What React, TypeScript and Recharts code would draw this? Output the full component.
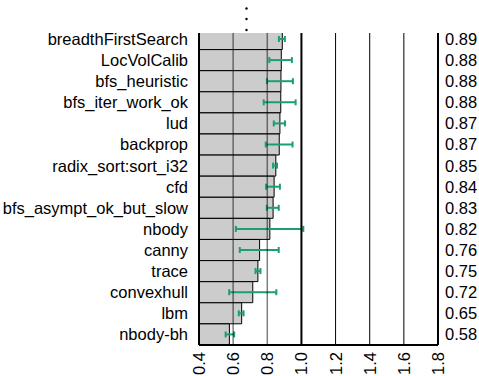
import React from 'react';
import { BarChart, Bar, XAxis, YAxis, ErrorBar, ReferenceLine } from 'recharts';

const categories = [
  'breadthFirstSearch', 'LocVolCalib', 'bfs_heuristic', 'bfs_iter_work_ok', 'lud', 'backprop',
  'radix_sort:sort_i32', 'cfd', 'bfs_asympt_ok_but_slow', 'nbody', 'canny', 'trace',
  'convexhull', 'lbm', 'nbody-bh',
];
const valueLabels = ['0.89', '0.88', '0.88', '0.88', '0.87', '0.87', '0.85', '0.84', '0.83', '0.82', '0.76', '0.75', '0.72', '0.65', '0.58'];
const values = [0.888, 0.882, 0.88, 0.879, 0.874, 0.87, 0.85, 0.84, 0.834, 0.815, 0.755, 0.745, 0.715, 0.65, 0.578];
const errLow = [0.868, 0.812, 0.798, 0.779, 0.838, 0.791, 0.834, 0.793, 0.797, 0.616, 0.639, 0.731, 0.577, 0.633, 0.556];
const errHigh = [0.903, 0.944, 0.95, 0.966, 0.904, 0.948, 0.857, 0.874, 0.867, 1.011, 0.867, 0.76, 0.853, 0.661, 0.606];
const xTicks = [0.4, 0.6, 0.8, 1.0, 1.2, 1.4, 1.6, 1.8];
const gridTicks = [0.6, 0.8, 1.2, 1.4, 1.6];

const data = categories.map((name, i) => ({
  name,
  label: valueLabels[i],
  value: values[i],
  err: [values[i] - errLow[i], errHigh[i] - values[i]],
}));

const FONT = '"Liberation Sans", Arial, sans-serif';
const FS = 16.5;

const XTick = (props: any) => {
  const { x, y, payload } = props;
  return (
    <text
      x={x}
      y={y}
      transform={`rotate(-90 ${x} ${y})`}
      textAnchor="end"
      dominantBaseline="central"
      fontFamily={FONT}
      fontSize={FS}
      fill="#000"
    >
      {payload.value.toFixed(1)}
    </text>
  );
};

export default function App() {
  return (
    <div style={{ position: 'absolute', left: 0, top: 0, width: 479, height: 376 }}>
      <BarChart
        width={479}
        height={376}
        data={data}
        layout="vertical"
        margin={{ top: 33, right: 0, bottom: 0, left: 0 }}
        barCategoryGap={0}
      >
        <XAxis
          type="number"
          domain={[0.4, 1.8]}
          ticks={xTicks}
          allowDataOverflow
          height={31}
          tickLine={false}
          tickSize={0}
          tickMargin={7}
          axisLine={{ stroke: '#000', strokeWidth: 2 }}
          tick={<XTick />}
          interval={0}
        />
        <YAxis
          yAxisId="left"
          type="category"
          dataKey="name"
          width={199}
          padding={{ top: -4.5, bottom: 0 }}
          allowDataOverflow
          tickLine={false}
          tickSize={0}
          tickMargin={11}
          axisLine={{ stroke: '#000', strokeWidth: 2 }}
          tick={{ fill: '#000', fontSize: FS, fontFamily: FONT }}
          interval={0}
        />
        <YAxis
          yAxisId="right"
          orientation="right"
          type="category"
          dataKey="label"
          width={41}
          padding={{ top: -4.5, bottom: 0 }}
          allowDataOverflow
          tickLine={false}
          tickSize={0}
          tickMargin={7}
          axisLine={{ stroke: '#000', strokeWidth: 2 }}
          tick={{ fill: '#000', fontSize: FS, fontFamily: FONT }}
          interval={0}
        />
        <Bar
          yAxisId="left"
          dataKey="value"
          fill="#cccccc"
          stroke="#000"
          strokeWidth={1}
          isAnimationActive={false}
        >
          <ErrorBar
            dataKey="err"
            direction="x"
            width={3}
            stroke="#1b9e77"
            strokeWidth={2}
            isAnimationActive={false}
          />
        </Bar>
        {gridTicks.map((t) => (
          <ReferenceLine
            key={t}
            yAxisId="left"
            x={t}
            stroke="#000"
            strokeOpacity={t < 1 ? 0.5 : 1}
            strokeWidth={t < 1 ? 1.5 : 1}
          />
        ))}
        <ReferenceLine yAxisId="left" x={1.0} stroke="#000" strokeWidth={2} />
      </BarChart>
      <div
        style={{ position: 'absolute', left: 192, top: 0, width: 252, height: 33, background: '#fff' }}
      >
        <svg width={252} height={33} style={{ display: 'block' }}>
          <g fill="#000">
            <circle cx={54.5} cy={8.5} r={1.2} />
            <circle cx={54.5} cy={19} r={1.2} />
            <circle cx={54.5} cy={30} r={1.2} />
          </g>
        </svg>
      </div>
    </div>
  );
}
